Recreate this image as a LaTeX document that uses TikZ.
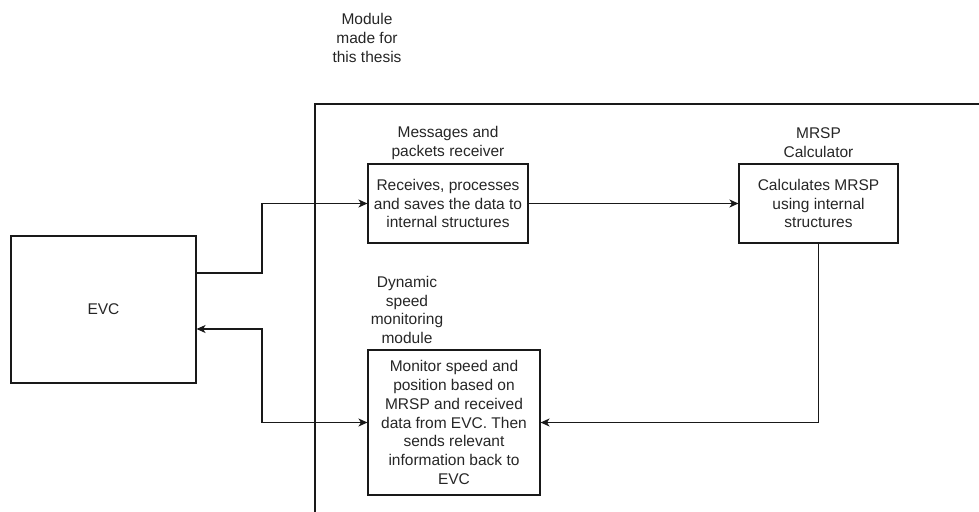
\documentclass[tikz,border=0pt]{standalone}
\usepackage{fontspec}
\setmainfont{Liberation Sans}
\usetikzlibrary{arrows.meta}
\begin{document}
\begin{tikzpicture}[x=1pt,y=-1pt,
  every node/.style={font=\fontsize{15.5}{18.7}\selectfont, text=black!85, align=center},
  box/.style={draw=black!90, line width=1.1pt, rectangle, inner sep=0pt},
  lbl/.style={inner sep=0pt},
  conn/.style={draw=black!90, line width=1.1pt},
  tip/.style={-{Stealth[length=9pt,width=8pt,inset=2.5pt]}}
]
\useasboundingbox (0,0) rectangle (979,511);
% module frame (only left and top edges visible)
\coordinate (fbl) at (315,515);
\coordinate (ftl) at (315,104);
\coordinate (ftr) at (985,104);
\draw[conn] (fbl) -- (ftl) -- (ftr);
\node[lbl] (modlab) at (367,38) {Module\\made for\\this thesis};

\node[box, minimum width=185pt, minimum height=147pt] (evc) at (103.5,309.5) {EVC};

\node[box, minimum width=160pt, minimum height=79pt] (recv) at (448,203.5)
  {Receives, processes\\and saves the data to\\internal structures};
\node[lbl] (recvlab) at (448,143) {Messages and\\packets receiver};

\node[box, minimum width=159pt, minimum height=79pt] (mrsp) at (818.5,203.5)
  {Calculates MRSP\\using internal\\structures};
\node[lbl] (mrsplab) at (818.5,143) {MRSP\\Calculator};

\node[box, minimum width=172pt, minimum height=145pt] (dyn) at (454,422.5)
  {Monitor speed and\\position based on\\MRSP and received\\data from EVC. Then\\sends relevant\\information back to\\EVC};
\node[lbl] (dynlab) at (407,310) {Dynamic\\speed\\monitoring\\module};

\coordinate (j1) at (262,273);
\coordinate (j2) at (262,329);
\draw[conn, tip] (j1 -| evc.east) -- (j1) |- (recv.west);
\draw[conn, tip] (recv.east) -- (mrsp.west);
\draw[conn, tip] (mrsp.south) |- (dyn.east);
\draw[conn, {Stealth[length=9pt,width=8pt,inset=2.5pt]}-{Stealth[length=9pt,width=8pt,inset=2.5pt]}] (j2 -| evc.east) -- (j2) |- (dyn.west);
\end{tikzpicture}
\end{document}
